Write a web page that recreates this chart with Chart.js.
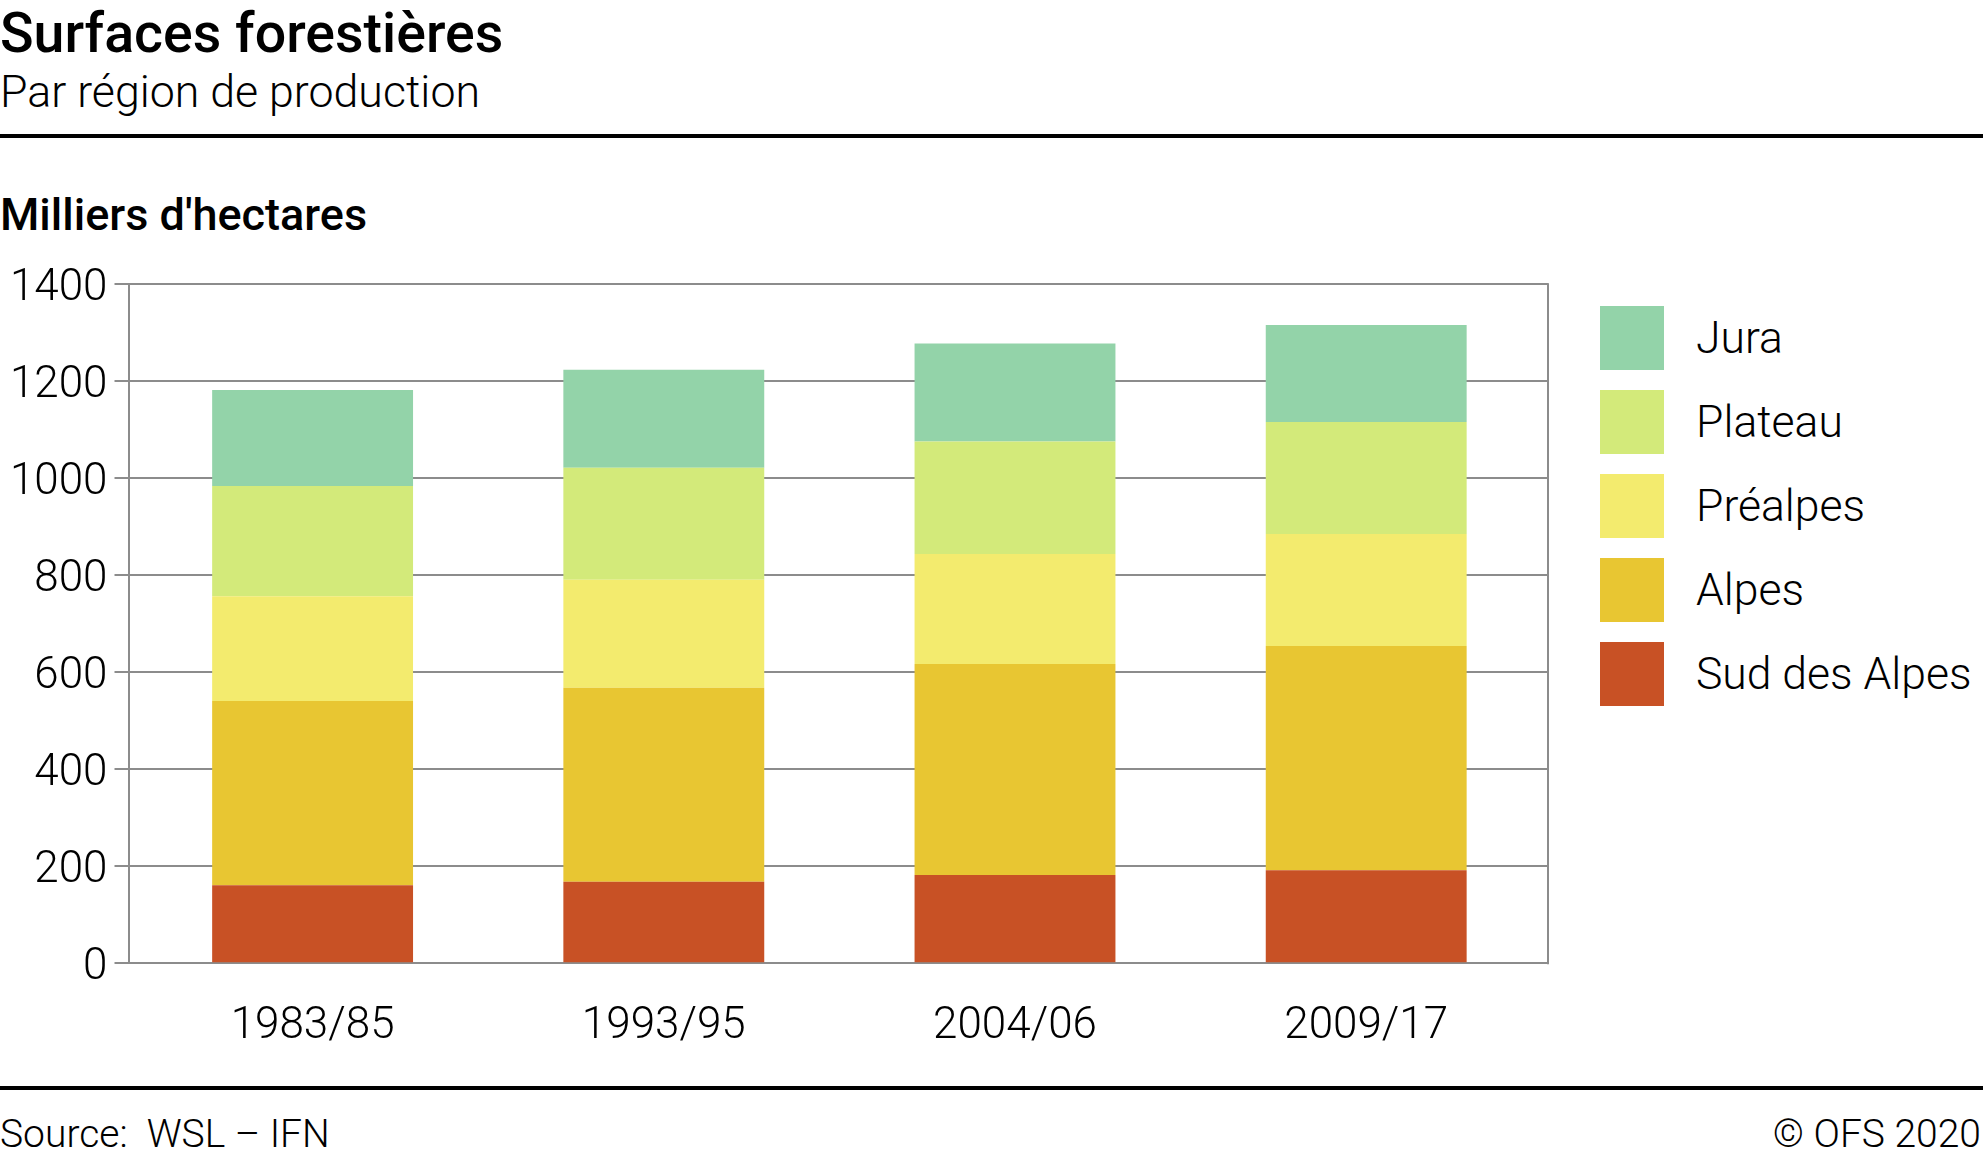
<!DOCTYPE html>
<html>
<head>
<meta charset="utf-8">
<script src="https://cdn.jsdelivr.net/npm/chart.js@4.4.1/dist/chart.umd.min.js"></script>
<style>
  html, body { margin: 0; padding: 0; background: #fff; }
  body { width: 1983px; height: 1161px; position: relative; overflow: hidden;
         font-family: Roboto, "Noto Sans", sans-serif; color: #000; }
  .t { position: absolute; white-space: nowrap; line-height: 1; }
  .light { font-family: "Roboto Light", Roboto, "Noto Sans", sans-serif; font-weight: 300; }
  .rule { position: absolute; left: 0; width: 1983px; height: 4px; background: #000; }
  #chartBox { position: absolute; left: 0; top: 240px; width: 1560px; height: 830px; }
  #legend { position: absolute; left: 1600px; top: 306px; }
  .item { display: flex; align-items: center; height: 64px; margin-bottom: 20px; }
  .sw { width: 64px; height: 64px; flex: none; }
  .lab { margin-left: 32px; font-size: 44.5px; white-space: nowrap; }
</style>
</head>
<body>
<div class="t" style="left:0;top:5.5px;font-size:55.5px;font-weight:500;">Surfaces forestières</div>
<div class="t light" style="left:0;top:69.7px;font-size:44.7px;">Par région de production</div>
<div class="rule" style="top:134px;"></div>
<div class="t" style="left:0;top:192px;font-size:45px;font-weight:500;">Milliers d'hectares</div>
<div id="chartBox"><canvas id="c"></canvas></div>
<div id="legend"></div>
<div class="rule" style="top:1086px;"></div>
<div class="t light" style="left:0;top:1115px;font-size:39px;">Source:&nbsp; WSL – IFN</div>
<div class="t light" style="right:2px;top:1115px;font-size:39px;">© OFS 2020</div>

<script>
// ---- data ----
const categories = ['1983/85', '1993/95', '2004/06', '2009/17'];
const seriesNames = ['Sud des Alpes', 'Alpes', 'Préalpes', 'Plateau', 'Jura'];
const sudDesAlpes = [161, 168, 182, 192];
const alpes       = [380, 400, 435, 462];
const prealpes    = [216, 223, 227, 231];
const plateau     = [227, 231, 232, 231];
const jura        = [198, 202, 202, 200];
const seriesColors = ['#c85125', '#e8c632', '#f3eb6e', '#d3ea7a', '#93d3a9'];
const yTickStep = 200;
const yMax = 1400;

const seriesValues = [sudDesAlpes, alpes, prealpes, plateau, jura];
const gridGray = '#8c8c8c';
const lightFamily = '"Roboto Light", Roboto, "Noto Sans", sans-serif';

const datasets = seriesValues.map((vals, k) => ({
  label: seriesNames[k],
  data: vals.map((v, i) => ({ x: i, y: v })),
  backgroundColor: seriesColors[k],
  borderWidth: 0,
  categoryPercentage: 1,
  barPercentage: 0.572
}));

const frameRight = {
  id: 'frameRight',
  beforeDatasetsDraw(chart) {
    const a = chart.chartArea, ctx = chart.ctx;
    ctx.save();
    ctx.strokeStyle = gridGray;
    ctx.lineWidth = 2;
    ctx.beginPath();
    ctx.moveTo(Math.round(a.right), a.top - 1);
    ctx.lineTo(Math.round(a.right), a.bottom + 1);
    ctx.stroke();
    ctx.restore();
  }
};

Chart.defaults.font.family = lightFamily;
Chart.defaults.color = '#000';

new Chart(document.getElementById('c'), {
  type: 'bar',
  data: { datasets },
  plugins: [frameRight],
  options: {
    responsive: true,
    maintainAspectRatio: false,
    animation: false,
    layout: { padding: { top: 44.3, right: 11.7, bottom: 6.7, left: 0 } },
    plugins: { legend: { display: false }, tooltip: { enabled: false } },
    scales: {
      x: {
        type: 'linear',
        stacked: true,
        offset: false,
        min: -0.5242,
        max: 3.5185,
        grid: { display: false, drawTicks: false, offset: false },
        border: { display: false },
        ticks: {
          stepSize: 1,
          includeBounds: false,
          autoSkip: false,
          maxRotation: 0,
          padding: 35.5,
          font: { size: 44, weight: 300, family: lightFamily },
          color: '#000',
          callback: (v) => (Number.isInteger(v) && categories[v] !== undefined) ? categories[v] : ''
        },
        afterFit: (s) => { s.height = 100; }
      },
      y: {
        stacked: true,
        min: 0,
        max: yMax,
        grid: { color: gridGray, lineWidth: 2, tickLength: 14, drawTicks: true },
        border: { display: true, color: gridGray, width: 2 },
        ticks: {
          stepSize: yTickStep,
          padding: 7,
          labelOffset: 3,
          font: { size: 44, weight: 300, family: lightFamily },
          color: '#000',
          callback: (v) => String(v)
        },
        afterFit: (s) => { s.width = 128.5; }
      }
    }
  }
});

// legend (top to bottom: Jura ... Sud des Alpes)
const legend = document.getElementById('legend');
for (let k = seriesNames.length - 1; k >= 0; k--) {
  const it = document.createElement('div');
  it.className = 'item';
  const sw = document.createElement('div');
  sw.className = 'sw';
  sw.style.background = seriesColors[k];
  const lab = document.createElement('div');
  lab.className = 'lab light';
  lab.textContent = seriesNames[k];
  it.appendChild(sw); it.appendChild(lab);
  legend.appendChild(it);
}
</script>
</body>
</html>
